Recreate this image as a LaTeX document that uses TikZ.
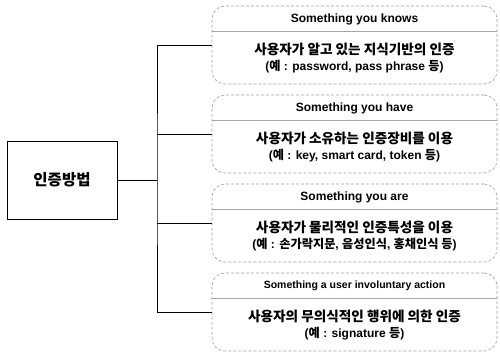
\documentclass[tikz,border=0pt]{standalone}
\usepackage{fontspec}
\setmainfont{Liberation Sans}
\newfontfamily\krfont{Noto Sans CJK KR}
\newcommand{\hangul}[1]{{\krfont\fontsize{13.6}{16}\selectfont #1}}
\newcommand{\hangulsm}[1]{{\krfont\fontsize{12.2}{16}\selectfont #1}}
\usetikzlibrary{positioning}

\tikzset{
  method/.style={draw, line width=1pt, minimum width=110pt, minimum height=78pt,
    font=\krfont\bfseries\fontsize{15.5}{18}\selectfont},
  way/.style={draw=gray!75, densely dashed, line width=0.6pt, rounded corners=13pt,
    minimum width=285pt, minimum height=78pt},
  waytitle/.style={font=\bfseries\fontsize{12}{14}\selectfont},
  waytext/.style={align=center, font=\bfseries\fontsize{12}{16}\selectfont},
  sep/.style={draw=gray!70, line width=0.6pt},
  link/.style={line width=1pt},
}

\begin{document}
\begin{tikzpicture}[x=1pt, y=-1pt]
  \useasboundingbox (0,0) rectangle (500,354);

  \node[method] (method) at (62,180) {인증방법};

  % four kinds of authentication
  \node[way] (know) at (354.5,45) {};
  \node[way] (have) at (354.5,134) {};
  \node[way] (are)  at (354.5,223) {};
  \node[way] (act)  at (354.5,312) {};

  \node[waytitle] (knowtitle) at (354.5,19)  {Something you knows};
  \node[waytitle] (havetitle) at (354.5,108) {Something you have};
  \node[waytitle] (aretitle)  at (354.5,197) {Something you are};
  \node[waytitle, font=\bfseries\fontsize{10.5}{12}\selectfont]
    (acttitle) at (354.5,286) {Something a user involuntary action};

  \foreach \w in {know,have,are,act}
    \draw[sep] ([yshift=-26pt]\w.north west) -- ([yshift=-26pt]\w.north east);

  \node[waytext] (knowtext) at (354.5,58)
    {\hangul{사용자가 알고 있는 지식기반의 인증}\\
     (\hangulsm{예} : password, pass phrase \hangulsm{등})};
  \node[waytext] (havetext) at (354.5,147)
    {\hangul{사용자가 소유하는 인증장비를 이용}\\
     (\hangulsm{예} : key, smart card, token \hangulsm{등})};
  \node[waytext] (aretext)  at (354.5,236)
    {\hangul{사용자가 물리적인 인증특성을 이용}\\
     (\hangulsm{예} : \hangulsm{손가락지문}, \hangulsm{음성인식}, \hangulsm{홍채인식 등})};
  \node[waytext] (acttext)  at (354.5,325)
    {\hangul{사용자의 무의식적인 행위에 의한 인증}\\
     (\hangulsm{예} : signature \hangulsm{등})};

  % tree connectors
  \coordinate (hub) at (157,180);
  \draw[link] (method) -- (hub);
  \draw[link] (know.west) -| (hub) |- (act.west);
  \draw[link] (have.west) -- (have.west -| hub);
  \draw[link] (are.west) -- (are.west -| hub);
\end{tikzpicture}
\end{document}
